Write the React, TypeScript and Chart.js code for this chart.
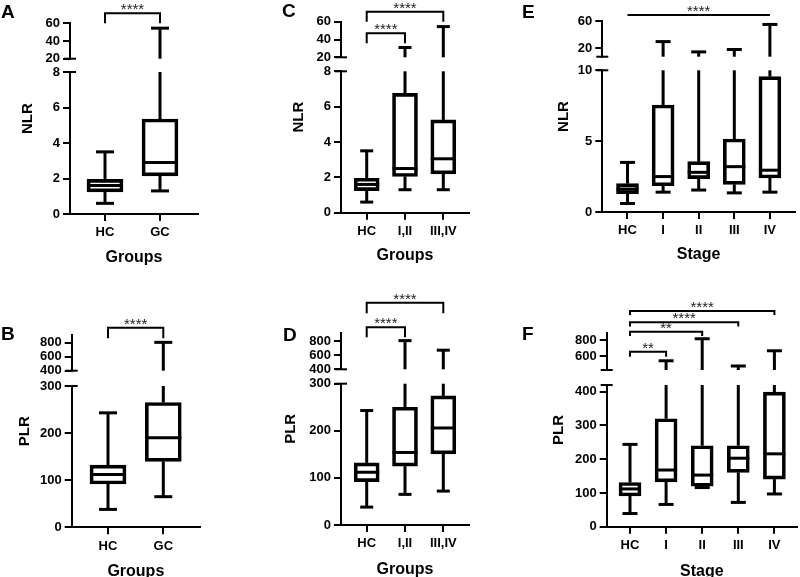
import React, { useEffect, useRef } from "react";
import { Chart, registerables } from "chart.js";

Chart.register(...registerables);

// ---------------- data ----------------
const groups2 = ["HC", "GC"];
const groups3 = ["HC", "I,II", "III,IV"];
const stages = ["HC", "I", "II", "III", "IV"];

// five-number summaries per category: [min, Q1, median, Q3, max]
const nlrGroups2 = [
  [0.6, 1.25, 1.6, 1.95, 3.5],
  [1.3, 2.15, 2.9, 5.35, 54.5],
];
const nlrGroups3 = [
  [0.6, 1.25, 1.6, 1.95, 3.5],
  [1.3, 2.05, 2.5, 6.75, 31],
  [1.3, 2.2, 3.05, 5.25, 54.5],
];
const nlrStages = [
  [0.6, 1.3, 1.62, 2.0, 3.5],
  [1.4, 1.85, 2.5, 7.55, 30],
  [1.55, 2.35, 2.8, 3.55, 15],
  [1.35, 1.95, 3.2, 5.15, 18.5],
  [1.4, 2.4, 2.95, 9.55, 55],
];
const plrGroups2 = [
  [38, 92, 112, 132, 243],
  [65, 140, 190, 265, 805],
];
const plrGroups3 = [
  [38, 92, 112, 132, 243],
  [65, 125, 154, 250, 805],
  [72, 151, 206, 274, 670],
];
const plrStages = [
  [39, 91, 112, 131, 244],
  [66, 133, 168, 320, 540],
  [116, 120, 153, 240, 815],
  [72, 161, 203, 240, 475],
  [97, 141, 216, 399, 665],
];

// axis segments (broken y axis): lower and upper ranges
const nlrLowRange = [0, 8];
const nlrHighRange = [20, 60];
const nlrStageLowRange = [0, 10];
const nlrStageHighRange = [8, 60];
const plrLowRange = [0, 300];
const plrHighRangeB = [400, 910];
const plrHighRangeD = [400, 917];
const plrStageLowRange = [0, 420];
const plrStageHighRange = [425, 883];

// tick labels
const nlrTicksLow = [0, 2, 4, 6, 8];
const nlrTicksHigh = [20, 40, 60];
const nlrStageTicksLow = [0, 5, 10];
const nlrStageTicksHigh = [20, 60];
const plrTicksLow = [0, 100, 200, 300];
const plrTicksHigh = [400, 600, 800];
const plrStageTicksLow = [0, 100, 200, 300, 400];
const plrStageTicksHigh = [600, 800];

// significance brackets (category indexes)
const bracketsA = [{ from: 0, to: 1, label: "****" }];
const bracketsC = [
  { from: 0, to: 2, label: "****" },
  { from: 0, to: 1, label: "****" },
];
const bracketsE = [{ from: 0, to: 4, label: "****" }];
const bracketsB = [{ from: 0, to: 1, label: "****" }];
const bracketsD = [
  { from: 0, to: 2, label: "****" },
  { from: 0, to: 1, label: "****" },
];
const bracketsF = [
  { from: 0, to: 4, label: "****" },
  { from: 0, to: 3, label: "****" },
  { from: 0, to: 2, label: "**" },
  { from: 0, to: 1, label: "**" },
];

// ---------------- layout / style ----------------
const FONT = '"Liberation Sans", Arial, Helvetica, sans-serif';
const Y_W = 40;
const X_H = 30;

type Layout = {
  left: number; top: number; w: number; h: number;
  axisX: number; plotRight: number; plotTop: number; plotBottom: number;
  firstX: number; spacing: number;
  weights: number[]; // upper, gap, lower (px proportions)
  boxW: number; capW: number;
  yTitleDx: number; xTitleDy: number;
  brDy: number[]; brLeg: number[];
  letterX: number; letterY: number;
};

type PanelCfg = {
  letter: string;
  cats: string[];
  boxes: number[][];
  low: number[]; high: number[];
  lowTicks: number[]; highTicks: number[];
  yTitle: string; xTitle: string;
  brackets: { from: number; to: number; label: string }[];
  L: Layout;
};

const panels: PanelCfg[] = [
  {
    letter: "A", cats: groups2, boxes: nlrGroups2, low: nlrLowRange, high: nlrHighRange,
    lowTicks: nlrTicksLow, highTicks: nlrTicksHigh, yTitle: "NLR", xTitle: "Groups", brackets: bracketsA,
    L: { left: 0, top: 0, w: 230, h: 280, axisX: 70, plotRight: 198, plotTop: 23.3, plotBottom: 214,
      firstX: 105, spacing: 55, weights: [35.4, 13.3, 142], boxW: 36, capW: 18, yTitleDx: 42, xTitleDy: 43.5,
      brDy: [-10], brLeg: [10], letterX: 1, letterY: 2 },
  },
  {
    letter: "C", cats: groups3, boxes: nlrGroups3, low: nlrLowRange, high: nlrHighRange,
    lowTicks: nlrTicksLow, highTicks: nlrTicksHigh, yTitle: "NLR", xTitle: "Groups", brackets: bracketsC,
    L: { left: 230, top: 0, w: 250, h: 280, axisX: 341, plotRight: 469, plotTop: 21.7, plotBottom: 212.7,
      firstX: 366.7, spacing: 38.3, weights: [35.6, 14, 141.4], boxW: 25, capW: 13, yTitleDx: 42, xTitleDy: 43.3,
      brDy: [-10, 11.6], brLeg: [10, 10], letterX: 282, letterY: 1 },
  },
  {
    letter: "E", cats: stages, boxes: nlrStages, low: nlrStageLowRange, high: nlrStageHighRange,
    lowTicks: nlrStageTicksLow, highTicks: nlrStageTicksHigh, yTitle: "NLR", xTitle: "Stage", brackets: bracketsE,
    L: { left: 480, top: 0, w: 320, h: 280, axisX: 602.3, plotRight: 795, plotTop: 21, plotBottom: 212,
      firstX: 627.5, spacing: 35.6, weights: [35.7, 13.6, 141.7], boxW: 22, capW: 15, yTitleDx: 38, xTitleDy: 43,
      brDy: [-6], brLeg: [0], letterX: 522, letterY: 2 },
  },
  {
    letter: "B", cats: groups2, boxes: plrGroups2, low: plrLowRange, high: plrHighRangeB,
    lowTicks: plrTicksLow, highTicks: plrTicksHigh, yTitle: "PLR", xTitle: "Groups", brackets: bracketsB,
    L: { left: 0, top: 280, w: 230, h: 297, axisX: 71.7, plotRight: 200, plotTop: 335, plotBottom: 527.3,
      firstX: 108, spacing: 55.3, weights: [35.7, 15.3, 141.3], boxW: 36, capW: 18, yTitleDx: 46.7, xTitleDy: 44.5,
      brDy: [-7.3], brLeg: [10.6], letterX: 1, letterY: 324 },
  },
  {
    letter: "D", cats: groups3, boxes: plrGroups3, low: plrLowRange, high: plrHighRangeD,
    lowTicks: plrTicksLow, highTicks: plrTicksHigh, yTitle: "PLR", xTitle: "Groups", brackets: bracketsD,
    L: { left: 230, top: 280, w: 250, h: 297, axisX: 341, plotRight: 469, plotTop: 332.7, plotBottom: 525,
      firstX: 366.7, spacing: 38.3, weights: [36.6, 14.4, 141.3], boxW: 25, capW: 13, yTitleDx: 50, xTitleDy: 44.5,
      brDy: [-30, -5.4], brLeg: [10.6, 10], letterX: 283, letterY: 325 },
  },
  {
    letter: "F", cats: stages, boxes: plrStages, low: plrStageLowRange, high: plrStageHighRange,
    lowTicks: plrStageTicksLow, highTicks: plrStageTicksHigh, yTitle: "PLR", xTitle: "Stage", brackets: bracketsF,
    L: { left: 480, top: 280, w: 320, h: 297, axisX: 606.7, plotRight: 797, plotTop: 333.3, plotBottom: 526.7,
      firstX: 630, spacing: 36.1, weights: [36.7, 15, 141.7], boxW: 22, capW: 15, yTitleDx: 48, xTitleDy: 44.5,
      brDy: [-22.3, -11, -1.6, 18.4], brLeg: [4, 4.3, 4.3, 5], letterX: 522, letterY: 324 },
  },
];

function makePlugin(cfg: PanelCfg) {
  return {
    id: "boxplot" + cfg.letter,
    afterDatasetsDraw(chart: any) {
      const { ctx, chartArea } = chart;
      const xs = chart.scales.x;
      const lo = chart.scales.yLow;
      const hi = chart.scales.yHigh;
      const L = cfg.L;
      const seg = (x1: number, y1: number, x2: number, y2: number) => {
        ctx.beginPath();
        ctx.moveTo(x1, y1);
        ctx.lineTo(x2, y2);
        ctx.stroke();
      };
      ctx.save();
      ctx.strokeStyle = "#000";
      ctx.lineWidth = 3;
      ctx.lineCap = "butt";
      cfg.boxes.forEach((b, i) => {
        const [mn, q1, md, q3, mx] = b;
        const cx = xs.getPixelForValue(i);
        const hw = L.boxW / 2;
        const hc = L.capW / 2;
        seg(cx, lo.getPixelForValue(q1), cx, lo.getPixelForValue(mn));
        seg(cx - hc, lo.getPixelForValue(mn), cx + hc, lo.getPixelForValue(mn));
        seg(cx - hw, lo.getPixelForValue(md), cx + hw, lo.getPixelForValue(md));
        if (mx <= lo.max) {
          seg(cx, lo.getPixelForValue(q3), cx, lo.getPixelForValue(mx));
          seg(cx - hc, lo.getPixelForValue(mx), cx + hc, lo.getPixelForValue(mx));
        } else {
          seg(cx, lo.getPixelForValue(q3), cx, lo.top);
          seg(cx, hi.bottom, cx, hi.getPixelForValue(mx));
          seg(cx - hc, hi.getPixelForValue(mx), cx + hc, hi.getPixelForValue(mx));
        }
      });
      ctx.lineWidth = 2;
      const ax = chartArea.left;
      seg(ax - 6, lo.top, ax + 6, lo.top);
      seg(ax - 6, hi.bottom, ax + 6, hi.bottom);
      cfg.brackets.forEach((br, k) => {
        const y = chartArea.top + L.brDy[k];
        const leg = L.brLeg[k];
        const x1 = xs.getPixelForValue(br.from);
        const x2 = xs.getPixelForValue(br.to);
        ctx.strokeStyle = "#000";
        ctx.lineWidth = 2;
        ctx.beginPath();
        ctx.moveTo(x1, y + leg);
        ctx.lineTo(x1, y);
        ctx.lineTo(x2, y);
        ctx.lineTo(x2, y + leg);
        ctx.stroke();
        ctx.fillStyle = "#222";
        ctx.font = `15px ${FONT}`;
        ctx.textAlign = "center";
        ctx.textBaseline = "alphabetic";
        ctx.fillText(br.label, (x1 + x2) / 2, y + 1);
      });
      ctx.fillStyle = "#000";
      ctx.font = `bold 15px ${FONT}`;
      ctx.save();
      ctx.translate(ax - L.yTitleDx, (chartArea.top + chartArea.bottom) / 2);
      ctx.rotate(-Math.PI / 2);
      ctx.textAlign = "center";
      ctx.textBaseline = "middle";
      ctx.fillText(cfg.yTitle, 0, 0);
      ctx.restore();
      ctx.font = `bold 16px ${FONT}`;
      ctx.textAlign = "center";
      ctx.textBaseline = "middle";
      ctx.fillText(cfg.xTitle, (chartArea.left + chartArea.right) / 2, chartArea.bottom + L.xTitleDy);
      ctx.restore();
    },
  };
}

function yScale(range: number[], ticks: number[], weight: number, stackWeight: number, show: boolean) {
  return {
    type: "linear",
    position: "left",
    stack: "ystack",
    stackWeight,
    weight,
    min: range[0],
    max: range[1],
    display: true,
    grid: show
      ? { display: true, drawOnChartArea: false, drawTicks: true, tickLength: 7, color: "#000", lineWidth: 2 }
      : { display: false },
    border: show ? { display: true, color: "#000", width: 2 } : { display: false },
    ticks: show
      ? { display: true, autoSkip: false, color: "#000", padding: 3, font: { family: FONT, size: 13, weight: "bold" } }
      : { display: false },
    afterBuildTicks: (s: any) => {
      s.ticks = ticks.map((v) => ({ value: v }));
    },
    afterFit: (s: any) => {
      s.width = Y_W;
    },
  };
}

function Panel({ cfg }: { cfg: PanelCfg }) {
  const ref = useRef<HTMLCanvasElement>(null);
  useEffect(() => {
    const L = cfg.L;
    const n = cfg.cats.length;
    const xMin = -(L.firstX - L.axisX) / L.spacing;
    const xMax = n - 1 + (L.plotRight - (L.firstX + (n - 1) * L.spacing)) / L.spacing;
    const chart = new Chart(ref.current as HTMLCanvasElement, {
      type: "bar",
      data: {
        datasets: [
          {
            data: cfg.boxes.map((b, i) => ({ x: i, y: [b[1], b[3]] })) as any,
            xAxisID: "x",
            yAxisID: "yLow",
            backgroundColor: "rgba(255,255,255,0)",
            borderColor: "#000",
            borderWidth: 3,
            borderSkipped: false,
            barThickness: L.boxW,
          } as any,
        ],
      },
      options: {
        responsive: false,
        animation: false,
        devicePixelRatio: 1,
        events: [],
        layout: {
          padding: {
            left: L.axisX - L.left - Y_W,
            right: L.left + L.w - L.plotRight,
            top: L.plotTop - L.top,
            bottom: L.top + L.h - L.plotBottom - X_H,
          },
        },
        plugins: { legend: { display: false }, tooltip: { enabled: false }, title: { display: false } },
        scales: {
          x: {
            type: "linear",
            position: "bottom",
            min: xMin,
            max: xMax,
            offset: false,
            grid: { display: true, offset: false, drawOnChartArea: false, drawTicks: true, tickLength: 7, color: "#000", lineWidth: 2 },
            border: { display: true, color: "#000", width: 2 },
            ticks: {
              autoSkip: false,
              maxRotation: 0,
              color: "#000",
              padding: 4,
              font: { family: FONT, size: 13, weight: "bold" },
              callback: (v: any) => cfg.cats[Math.round(Number(v))] ?? "",
            },
            afterBuildTicks: (s: any) => {
              s.ticks = cfg.cats.map((_, i) => ({ value: i }));
            },
            afterFit: (s: any) => {
              s.height = X_H;
            },
          },
          yLow: yScale(cfg.low, cfg.lowTicks, 1, L.weights[2], true),
          yGap: yScale([0, 1], [], 2, L.weights[1], false),
          yHigh: yScale(cfg.high, cfg.highTicks, 3, L.weights[0], true),
        } as any,
      },
      plugins: [makePlugin(cfg)],
    });
    return () => chart.destroy();
  }, [cfg]);
  const L = cfg.L;
  return (
    <canvas
      ref={ref}
      width={L.w}
      height={L.h}
      style={{ position: "absolute", left: L.left, top: L.top, width: L.w, height: L.h }}
    />
  );
}

export default function App() {
  return (
    <div style={{ position: "absolute", left: 0, top: 0, width: 800, height: 577, background: "#fff", overflow: "hidden" }}>
      {panels.map((p) => (
        <Panel key={p.letter} cfg={p} />
      ))}
      {panels.map((p) => (
        <div
          key={"lbl" + p.letter}
          style={{
            position: "absolute",
            left: p.L.letterX,
            top: p.L.letterY,
            font: `bold 19px ${FONT}`,
            lineHeight: "19px",
            color: "#000",
          }}
        >
          {p.letter}
        </div>
      ))}
    </div>
  );
}
